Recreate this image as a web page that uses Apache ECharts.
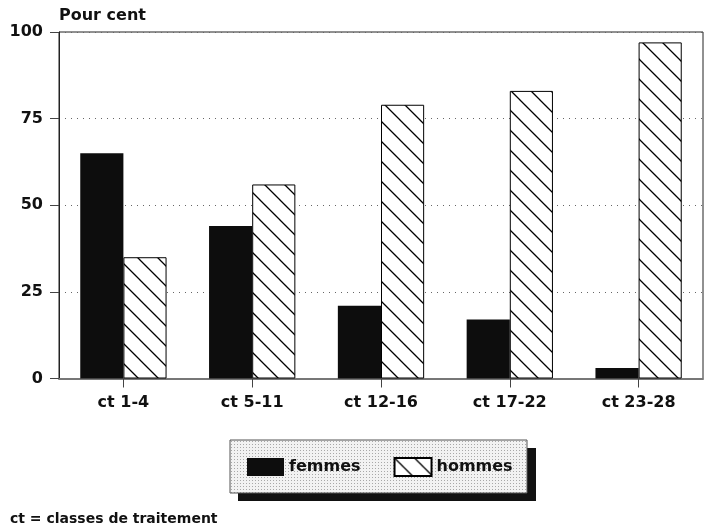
<!DOCTYPE html>
<html>
<head>
<meta charset="utf-8">
<script src="https://cdn.jsdelivr.net/npm/echarts@6/dist/echarts.min.js"></script>
<style>html,body{margin:0;padding:0;background:#fff}#c{width:708px;height:531px}</style>
</head>
<body>
<div id="c"></div>
<script>
var categories = ['ct 1-4', 'ct 5-11', 'ct 12-16', 'ct 17-22', 'ct 23-28'];
var femmes = [65, 44, 21, 17, 3];
var hommes = [35, 56, 79, 83, 97];
var yTicks = [0, 25, 50, 75, 100];
var seriesNames = ['femmes', 'hommes'];
var yTitle = 'Pour cent';
var footnote = 'ct = classes de traitement';

var FONT = '"DejaVu Sans", sans-serif';

function hatchCanvas() {
  var c = document.createElement('canvas');
  c.width = 20; c.height = 20;
  var g = c.getContext('2d');
  g.fillStyle = '#fff'; g.fillRect(0, 0, 20, 20);
  g.strokeStyle = '#000'; g.lineWidth = 1.3;
  g.beginPath();
  g.moveTo(-5, -5); g.lineTo(25, 25);
  g.moveTo(-5, 15); g.lineTo(5, 25);
  g.moveTo(15, -5); g.lineTo(25, 5);
  g.stroke();
  return c;
}
function stippleCanvas() {
  var c = document.createElement('canvas');
  c.width = 3; c.height = 3;
  var g = c.getContext('2d');
  g.fillStyle = '#f2f2f2'; g.fillRect(0, 0, 3, 3);
  g.fillStyle = '#a8a8a8'; g.fillRect(0, 0, 1, 1);
  return c;
}

var chart = echarts.init(document.getElementById('c'), null, {renderer: 'canvas'});
chart.setOption({
  animation: false,
  backgroundColor: '#fff',
  title: [
    {text: yTitle, left: 54, top: 3, textStyle: {fontFamily: FONT, fontSize: 16, fontWeight: 'bold', color: '#111'}},
    {text: footnote, left: 5, top: 507, textStyle: {fontFamily: FONT, fontSize: 14, fontWeight: 'bold', color: '#111'}}
  ],
  grid: {left: 59, right: 5, top: 32, bottom: 152.5, show: true, borderColor: '#222', borderWidth: 1, backgroundColor: 'transparent'},
  legend: {
    left: 247, top: 457, itemWidth: 37, itemHeight: 18, itemGap: 33, padding: 0, icon: 'rect',
    data: seriesNames,
    textStyle: {fontFamily: FONT, fontSize: 16, fontWeight: 'bold', color: '#111'},
    z: 10
  },
  xAxis: {
    type: 'category', data: categories, boundaryGap: true,
    axisLine: {show: true, lineStyle: {color: '#777', width: 2}},
    axisTick: {show: true, alignWithLabel: true, length: 9, lineStyle: {color: '#444'}},
    axisLabel: {margin: 16, fontFamily: FONT, fontSize: 16, fontWeight: 'bold', color: '#111'},
    splitLine: {show: false}
  },
  yAxis: {
    type: 'value', min: yTicks[0], max: yTicks[yTicks.length - 1], interval: 25,
    axisLine: {show: true, lineStyle: {color: '#222', width: 1}},
    axisTick: {show: true, length: 9, lineStyle: {color: '#444'}},
    axisLabel: {margin: 16, fontFamily: FONT, fontSize: 16, fontWeight: 'bold', color: '#111'},
    splitLine: {show: true, lineStyle: {color: '#666', type: [1, 5], width: 1}}
  },
  graphic: [
    {type: 'rect', z: 1, shape: {x: 238, y: 448, width: 298, height: 53}, style: {fill: '#111'}},
    {type: 'rect', z: 2, shape: {x: 230, y: 440, width: 297, height: 53},
     style: {fill: {image: stippleCanvas(), repeat: 'repeat'}, stroke: '#555', lineWidth: 1}}
  ],
  series: [
    {name: seriesNames[0], type: 'bar', data: femmes, barGap: '0%', barCategoryGap: '33%',
     itemStyle: {color: '#0d0d0d', borderColor: '#000', borderWidth: 0}},
    {name: seriesNames[1], type: 'bar', data: hommes, barGap: '0%', barCategoryGap: '33%',
     itemStyle: {color: {image: hatchCanvas(), repeat: 'repeat'}, borderColor: '#000', borderWidth: 1}}
  ]
});
</script>
</body>
</html>
